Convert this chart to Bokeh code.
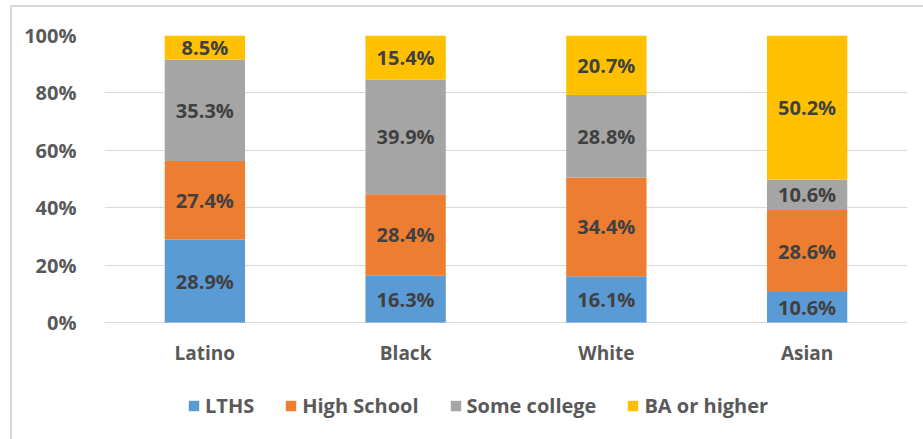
from bokeh.plotting import figure
from bokeh.models import (FactorRange, Range1d, ColumnDataSource, LabelSet, Legend, LegendItem,
                          PrintfTickFormatter, InlineStyleSheet)
from bokeh.core.properties import value
from bokeh.embed import file_html
from bokeh.resources import INLINE

categories = ["Latino", "Black", "White", "Asian"]
series = ["LTHS", "High School", "Some college", "BA or higher"]
lths = [28.9, 16.3, 16.1, 10.6]
high_school = [27.4, 28.4, 34.4, 28.6]
some_college = [35.3, 39.9, 28.8, 10.6]
ba_or_higher = [8.5, 15.4, 20.7, 50.2]
colors = ["#5B9BD5", "#ED7D31", "#A5A5A5", "#FFC000"]
y_ticks = [0, 20, 40, 60, 80, 100]

FONT = "Open Sans"

# layout (pixels): frame top 35, zero line at 322, frame bottom 426
H, TOP, ZERO, BOT = 431, 35, 322, 426
px_per_unit = (ZERO - TOP) / 100.0
y_start = -(BOT - ZERO) / px_per_unit

data = {"cat": categories, "LTHS": lths, "High School": high_school,
        "Some college": some_college, "BA or higher": ba_or_higher}
src = ColumnDataSource(data)

p = figure(x_range=FactorRange(factors=categories, range_padding=0),
           y_range=Range1d(y_start, 100), width=915, height=H,
           output_backend="svg", toolbar_location=None,
           min_border_left=104, min_border_right=8, min_border_top=TOP, min_border_bottom=H - BOT)

rs = p.vbar_stack(series, x="cat", width=0.4, color=colors, source=src, line_width=0)

# data labels
lx, ly, lt = [], [], []
for i, c in enumerate(categories):
    base = 0
    for vals in (lths, high_school, some_college, ba_or_higher):
        v = vals[i]
        lx.append(c)
        ly.append(base + v / 2)
        lt.append(f"{v:.1f}%")
        base += v
lsrc = ColumnDataSource(dict(x=lx, y=ly, t=lt))
p.add_layout(LabelSet(x="x", y="y", text="t", source=lsrc, text_align="center",
                      text_baseline="middle", text_font=value(FONT), text_font_style="bold",
                      text_font_size="20px", text_color="#404040"))

# category labels below the zero line
csrc = ColumnDataSource(dict(x=categories, y=[-30 / px_per_unit] * len(categories), t=categories))
p.add_layout(LabelSet(x="x", y="y", text="t", source=csrc, text_align="center",
                      text_baseline="middle", text_font=value(FONT), text_font_style="bold",
                      text_font_size="19px", text_color="#595959"))

p.outline_line_color = None
p.xgrid.grid_line_color = None
p.ygrid.grid_line_color = "#D9D9D9"
p.ygrid.grid_line_width = 1
p.xaxis.visible = False
p.yaxis.ticker = y_ticks
p.yaxis.formatter = PrintfTickFormatter(format="%d%%")
p.yaxis.major_tick_line_color = None
p.yaxis.minor_tick_line_color = None
p.yaxis.axis_line_color = None
p.yaxis.major_label_text_font = FONT
p.yaxis.major_label_text_font_style = "bold"
p.yaxis.major_label_text_font_size = "20px"
p.yaxis.major_label_text_color = "#595959"
p.yaxis.major_label_standoff = 22

legend = Legend(items=[LegendItem(label=s, renderers=[r]) for s, r in zip(series, rs)],
                orientation="horizontal", location=(83, BOT - 419),
                label_text_font=FONT, label_text_font_style="bold", label_text_font_size="20px",
                label_text_color="#595959", glyph_width=13, glyph_height=13,
                label_standoff=5, spacing=30, padding=0, margin=0,
                border_line_color=None, background_fill_alpha=0)
p.add_layout(legend, "center")

p.stylesheets = [InlineStyleSheet(css=""":host::after { content: ''; position: absolute; left: 10px; top: 5px;
 width: 940px; height: 460px; border: 2px solid #D9D9D9; pointer-events: none; }""")]

open("out.html", "w").write(file_html(p, INLINE))
